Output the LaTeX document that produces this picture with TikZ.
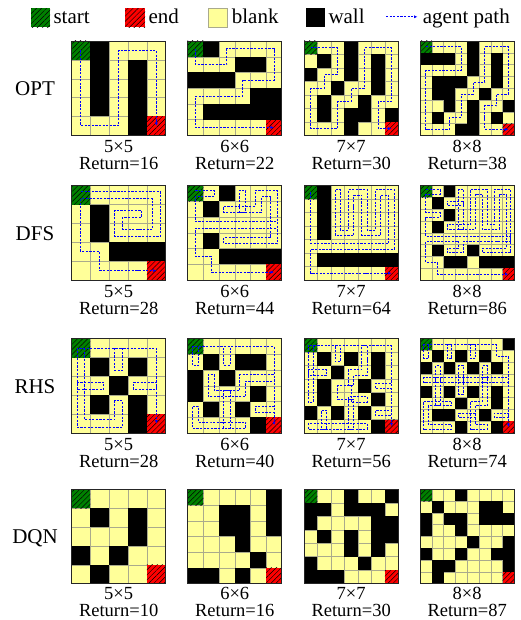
\documentclass[tikz,border=0pt]{standalone}
\usepackage{fontspec}
\setmainfont{Liberation Serif}
\usetikzlibrary{patterns.meta,arrows.meta}
\definecolor{cellyellow}{RGB}{255,255,153}
\definecolor{startgreen}{RGB}{0,128,0}
\definecolor{endred}{RGB}{255,0,0}
\definecolor{gridgray}{RGB}{170,170,140}
\tikzset{
  gridline/.style={draw=gridgray, line width=0.4pt},
  gridborder/.style={draw=black!85, line width=0.9pt},
  hatch/.style={pattern={Lines[angle=45,distance=3.6pt,line width=0.45pt]}, pattern color=black},
  apath/.style={draw=blue, line width=0.9pt, dash pattern=on 2.2pt off 1.4pt, -{Latex[length=3.4pt,width=3pt]}},
  numlab/.style={anchor=base, inner sep=0pt, font=\fontsize{18.5}{20}\selectfont},
  rowlab/.style={anchor=base, inner sep=0pt, font=\fontsize{21}{24}\selectfont},
  legtext/.style={anchor=base west, inner sep=0pt, font=\fontsize{21}{24}\selectfont},
}
\makeatletter
\def\ap@dxE{1}\def\ap@dyE{0}
\def\ap@dxW{-1}\def\ap@dyW{0}
\def\ap@dxS{0}\def\ap@dyS{1}
\def\ap@dxN{0}\def\ap@dyN{-1}
\def\ap@none{X}
\def\ap@key#1{%
  \if E#1\edef\ap@k{h.\ap@cx.\ap@cy}\fi
  \if W#1\edef\ap@k{h.\the\numexpr\ap@cx-1\relax.\ap@cy}\fi
  \if S#1\edef\ap@k{v.\ap@cx.\ap@cy}\fi
  \if N#1\edef\ap@k{v.\ap@cx.\the\numexpr\ap@cy-1\relax}\fi}
\def\ap@move#1{%
  \edef\ap@cx{\the\numexpr\ap@cx+(\csname ap@dx#1\endcsname)\relax}%
  \edef\ap@cy{\the\numexpr\ap@cy+(\csname ap@dy#1\endcsname)\relax}}
\def\ap@countstep#1{%
  \ap@key#1%
  \expandafter\ifx\csname ap@c@\ap@k\endcsname\relax
    \expandafter\def\csname ap@c@\ap@k\endcsname{1}%
  \else
    \expandafter\edef\csname ap@c@\ap@k\endcsname{\the\numexpr\csname ap@c@\ap@k\endcsname+1\relax}%
  \fi
  \ap@move#1}
\def\ap@drawstep#1{%
  \ap@key#1%
  \ifnum\csname ap@c@\ap@k\endcsname>1
    \pgfmathsetmacro\ap@ox{\ap@d*(\csname ap@dy#1\endcsname)}%
    \pgfmathsetmacro\ap@oy{0-\ap@d*(\csname ap@dx#1\endcsname)}%
  \else
    \def\ap@ox{0}\def\ap@oy{0}%
  \fi
  \ifx\ap@prev\ap@none
    \pgfmathsetmacro\ap@px{\ap@cx+0.5+(\ap@ox)}%
    \pgfmathsetmacro\ap@py{\ap@cy+0.5+(\ap@oy)}%
    \edef\ap@pts{(\ap@px,\ap@py)}%
  \else
    \edef\ap@dot{\the\numexpr(\csname ap@dx\ap@prev\endcsname)*(\csname ap@dx#1\endcsname)+(\csname ap@dy\ap@prev\endcsname)*(\csname ap@dy#1\endcsname)\relax}%
    \ifnum\ap@dot=0
      \pgfmathsetmacro\ap@px{\ap@cx+0.5+(\ap@pox)+(\ap@ox)}%
      \pgfmathsetmacro\ap@py{\ap@cy+0.5+(\ap@poy)+(\ap@oy)}%
      \edef\ap@pts{\ap@pts -- (\ap@px,\ap@py)}%
    \else
      \ifnum\ap@dot<0
        \pgfmathsetmacro\ap@ex{\ap@d*(\csname ap@dx\ap@prev\endcsname)}%
        \pgfmathsetmacro\ap@ey{\ap@d*(\csname ap@dy\ap@prev\endcsname)}%
      \else
        \def\ap@ex{0}\def\ap@ey{0}%
      \fi
      \pgfmathsetmacro\ap@px{\ap@cx+0.5+(\ap@pox)+(\ap@ex)}%
      \pgfmathsetmacro\ap@py{\ap@cy+0.5+(\ap@poy)+(\ap@ey)}%
      \pgfmathsetmacro\ap@qx{\ap@cx+0.5+(\ap@ox)+(\ap@ex)}%
      \pgfmathsetmacro\ap@qy{\ap@cy+0.5+(\ap@oy)+(\ap@ey)}%
      \edef\ap@pts{\ap@pts -- (\ap@px,\ap@py) -- (\ap@qx,\ap@qy)}%
    \fi
  \fi
  \let\ap@pox\ap@ox \let\ap@poy\ap@oy
  \def\ap@prev{#1}%
  \ap@move#1}
\def\ap@parseA#1{\ifx#1\relax\else\ap@countstep#1\expandafter\ap@parseA\fi}
\def\ap@parseB#1{\ifx#1\relax\else\ap@drawstep#1\expandafter\ap@parseB\fi}
\newcommand\agentpath[2]{%
  \begingroup
  \def\ap@d{#1}%
  \def\ap@cx{0}\def\ap@cy{0}%
  \ap@parseA#2\relax
  \def\ap@cx{0}\def\ap@cy{0}%
  \def\ap@prev{X}\def\ap@pox{0}\def\ap@poy{0}%
  \ap@parseB#2\relax
  \pgfmathsetmacro\ap@px{\ap@cx+0.5+(\ap@pox)}%
  \pgfmathsetmacro\ap@py{\ap@cy+0.5+(\ap@poy)}%
  \edef\ap@cmd{\noexpand\draw[apath] \ap@pts -- (\ap@px,\ap@py);}%
  \ap@cmd
  \endgroup}
\makeatother
% #1 name, #2 x, #3 y, #4 n, #5 walls, #6 moves, #7 return
\newcommand\mazegrid[7]{%
  \pgfmathsetmacro\mgcs{94.3/#4}%
  \pgfmathtruncatemacro\mgnm{#4-1}%
  \begin{scope}[shift={(#2,#3)}, x=\mgcs pt, y=-\mgcs pt]
    \fill[cellyellow] (0,0) rectangle (#4,#4);
    \foreach \i in {1,...,\mgnm} {
      \draw[gridline] (\i,0) -- (\i,#4);
      \draw[gridline] (0,\i) -- (#4,\i);
    }
    \foreach \wx/\wy in {#5} {\fill[black] (\wx,\wy) rectangle ++(1,1);}
    \fill[startgreen] (0,0) rectangle (1,1);
    \fill[hatch] (0,0) rectangle (1,1);
    \fill[endred] (\mgnm,\mgnm) rectangle (#4,#4);
    \fill[hatch] (\mgnm,\mgnm) rectangle (#4,#4);
    \draw[gridborder] (0,0) rectangle (#4,#4);
    \ifx\relax#6\relax\else\agentpath{0.2}{#6}\fi
  \end{scope}
  \node[numlab] (#1size) at ({#2+47.15},{#3+94.3+\labA}) {#4×#4};
  \node[numlab] (#1ret) at ({#2+47.15},{#3+94.3+\labB}) {Return=#7};
}
\def\labA{17.6}\def\labB{34.3}
\begin{document}
\begin{tikzpicture}[x=1pt,y=-1pt]
\fill[white] (0,0) rectangle (521,620);
\useasboundingbox (0,0) rectangle (521,620);
% legend
\fill[startgreen] (31,8.3) rectangle (50,27.3);
\fill[hatch] (31,8.3) rectangle (50,27.3);
\node[legtext] (lstart) at (53.3,23.6) {start};
\fill[endred] (125,8.3) rectangle (145,27.3);
\fill[hatch] (125,8.3) rectangle (145,27.3);
\node[legtext] (lend) at (148.3,23.6) {end};
\filldraw[fill=cellyellow, draw=gridgray, line width=0.4pt] (208.3,8.3) rectangle (227.3,27.3);
\node[legtext] (lblank) at (231.7,23.6) {blank};
\fill[black] (306,8.3) rectangle (325,27.3);
\node[legtext] (lwall) at (328.3,23.6) {wall};
\coordinate (la) at (386,16.8);
\coordinate (lb) at (417.5,16.8);
\draw[apath] (la) -- (lb);
\node[legtext] (lpath) at (422.7,23.6) {agent path};
% row labels
\node[rowlab] (ropt) at (35,95.5) {OPT};
\node[rowlab] (rdfs) at (35,240.2) {DFS};
\node[rowlab] (rrhs) at (35,393.2) {RHS};
\node[rowlab] (rdqn) at (35,543.8) {DQN};
% OPT
\mazegrid{opta}{71.5}{41}{5}{1/0,1/1,1/2,1/3,3/1,3/2,3/3,3/4}{SSSSEENNNNEESSSS}{16}
\mazegrid{optb}{187.6}{41}{6}{1/0,3/1,4/1,0/2,1/2,2/2,4/3,5/3,1/4,2/4,3/4,4/4,5/4}{SEENEEESSWWSWWWSSEEEEE}{22}
\mazegrid{optc}{304}{41}{7}{3/0,1/1,3/1,5/1,0/2,3/2,5/2,2/3,5/3,1/4,4/4,1/5,3/5,4/5,6/5,3/6}{EESSWSWSSSEENNENENNNEESSSSWSSE}{30}
\mazegrid{optd}{420}{41}{8}{4/0,0/1,1/1,2/1,4/1,6/1,4/2,6/2,1/3,2/3,3/3,6/3,1/4,2/4,5/4,2/5,4/5,7/5,1/6,4/6,6/6,3/7,4/7}{EEESSWWWSSSSSEENENNENENNNEESSSSWSWSSEE}{38}
% DFS
\mazegrid{dfsa}{71.5}{185.7}{5}{1/1,1/2,2/3,3/3,4/3}{EEEESSWWNEWSEENNWWWWSSSESEEE}{28}
\mazegrid{dfsb}{187.6}{185.7}{6}{2/0,1/1,1/3,2/4,3/4,4/4,5/4}{EWSSEEEEESWWWEEENNNWSWNSWEENESSWWWWWSSESEEEE}{44}
\mazegrid{dfsc}{304}{185.7}{7}{1/0,1/1,1/2,1/3,1/5,2/5,3/5,4/5,5/5,6/5}{SSSSEEEEEENNNNWSSSWNNNWSSSWNNNSSSENNNESSSENNNESSSSWWWWWWSSEEEEEE}{64}
\mazegrid{dfsd}{420}{185.7}{8}{2/0,1/1,2/2,1/3,1/5,4/5,2/6,3/6,5/6,6/6,7/6}{EWSSEWSSEEEEEEESWWEENNNNNWSSSWNNNWSSSWNNNSWESSWEENNNESSSENNNESSSSWWWWSWENWWWSSESEEEEEE}{86}
% RHS
\mazegrid{rhsa}{71.5}{338.7}{5}{1/1,3/1,2/2,1/3,3/3,3/4}{SSSSEENSWWNNEWNNEESNEESSWESS}{28}
\mazegrid{rhsb}{187.6}{338.7}{6}{1/1,3/1,4/1,0/2,2/2,0/3,4/3,1/4,3/4,4/5}{SNEESNEEESSWWSWWNSESSWWNSEEEWNNENEESSWES}{40}
\mazegrid{rhsc}{304}{338.7}{7}{1/1,3/1,5/1,2/2,5/2,1/3,4/3,1/4,5/4,0/5,2/5,4/5,5/6}{SSSSNNEWNNEESNEESSWSWSESSWWNSWEEEEWNNEWNNENNEESSSWESSWES}{56}
\mazegrid{rhsd}{420}{338.7}{8}{7/0,1/1,3/1,5/1,0/2,2/2,4/2,6/2,0/4,2/4,4/4,6/4,3/5,6/5,1/6,2/6,5/6,3/7,6/7}{SNEESNEESNEESESSWWNSWWNSWWNSWESSWSSEEWWNNEEWNNEESNEESSWSWESEWNNENNEESSSWES}{74}
% DQN
\def\labA{16.0}\def\labB{32.7}
\mazegrid{dqna}{71.5}{489.3}{5}{1/1,3/1,3/2,0/3,2/3,1/4}{}{10}
\mazegrid{dqnb}{187.6}{489.3}{6}{5/0,2/1,3/1,5/1,2/2,3/2,5/2,3/3,4/4,0/5,1/5,3/5}{}{16}
\mazegrid{dqnc}{304}{489.3}{7}{3/0,6/0,0/1,1/1,3/1,4/1,5/1,0/2,5/2,6/2,1/3,3/3,5/3,6/3,3/4,5/4,0/5,4/5,0/6,1/6,2/6}{}{30}
\mazegrid{dqnd}{420}{489.3}{8}{3/0,1/1,5/1,6/1,0/2,2/2,3/2,5/2,6/2,7/2,0/3,3/3,4/4,7/4,0/5,3/5,6/5,7/5,1/6,2/6,7/6,1/7}{}{87}
\end{tikzpicture}
\end{document}
